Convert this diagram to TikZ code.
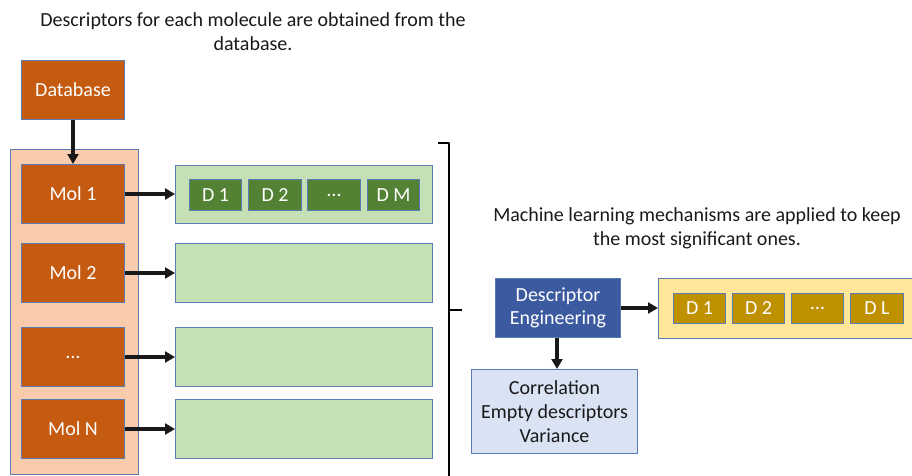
\documentclass[tikz,border=0pt]{standalone}
\usepackage{fontspec}
\setmainfont{Carlito}
\usetikzlibrary{arrows.meta}

\definecolor{rust}{HTML}{C55A11}
\definecolor{peach}{HTML}{F8CBAD}
\definecolor{mint}{HTML}{C5E0B4}
\definecolor{leaf}{HTML}{548235}
\definecolor{navy}{HTML}{3B5AA0}
\definecolor{cream}{HTML}{FFE699}
\definecolor{gold}{HTML}{BF9000}
\definecolor{ice}{HTML}{DAE3F3}
\definecolor{edge}{HTML}{5B7DB5}

\tikzset{
  box/.style={draw=edge, line width=1pt, inner sep=0pt, anchor=north west},
  molbox/.style={box, fill=rust, text=white, font=\fontsize{20}{24}\selectfont},
  descbox/.style={box, fill=leaf, text=white, font=\fontsize{20}{24}\selectfont},
  keptbox/.style={box, fill=gold, text=white, font=\fontsize{20}{24}\selectfont},
  rowbox/.style={box, fill=mint},
  flow/.style={line width=3.4pt, draw=black!90, -{Triangle[length=10pt,width=11pt]}},
  caption/.style={align=center, font=\fontsize{20}{24}\selectfont, text=black!90},
}

\begin{document}
\begin{tikzpicture}[x=1pt,y=-1pt]
\useasboundingbox (0,0) rectangle (912,476);

% captions
\node[caption] (capA) at (253,32) {Descriptors for each molecule are obtained from the\\database.};
\node[caption] (capB) at (697,228) {Machine learning mechanisms are applied to keep\\the most significant ones.};

% molecule panel
\node[box, fill=peach, minimum width=128pt, minimum height=325pt] (panel) at (10,149) {};
\node[molbox, minimum width=103pt, minimum height=59pt] (db) at (21,60) {Database};
\node[molbox, minimum width=103pt, minimum height=59pt] (m1) at (21,164) {Mol 1};
\node[molbox, minimum width=103pt, minimum height=59pt] (m2) at (21,243) {Mol 2};
\node[molbox, minimum width=103pt, minimum height=59pt] (m3) at (21,327) {\dots};
\node[molbox, minimum width=103pt, minimum height=59pt] (m4) at (21,399) {Mol N};

% descriptor rows
\node[rowbox, minimum width=257pt, minimum height=58pt] (r1) at (175,165) {};
\node[rowbox, minimum width=257pt, minimum height=59pt] (r2) at (175,243) {};
\node[rowbox, minimum width=257pt, minimum height=59pt] (r3) at (175,327) {};
\node[rowbox, minimum width=257pt, minimum height=59pt] (r4) at (175,399) {};

\node[descbox, minimum width=52pt, minimum height=31pt] (d1) at (189,179) {D 1};
\node[descbox, minimum width=53pt, minimum height=31pt] (d2) at (248,179) {D 2};
\node[descbox, minimum width=53pt, minimum height=31pt] (d3) at (307,179) {\dots};
\node[descbox, minimum width=52pt, minimum height=31pt] (d4) at (367,179) {D M};

% connectors on the left
\draw[flow] (db.south) -- (m1.north);
\draw[flow] (m1.east) -- (m1.east -| r1.west);
\draw[flow] (m2.east) -- (m2.east -| r2.west);
\draw[flow] (m3.east) -- (m3.east -| r3.west);
\draw[flow] (m4.east) -- (m4.east -| r4.west);

% brace grouping the rows
\coordinate (bt) at (438,143);
\coordinate (bm) at (462,310);
\coordinate (bb) at (449,478);
\draw[line width=2.8pt, line join=round] (bt) -- (449,143) -- (bb);
\draw[line width=2.8pt] (449,310) -- (bm);

% descriptor engineering
\node[box, fill=navy, text=white, align=center, minimum width=125pt, minimum height=59pt,
      font=\fontsize{20}{23}\selectfont] (de) at (495,278) {Descriptor\\Engineering};
\node[box, fill=cream, minimum width=260pt, minimum height=60pt] (kept) at (658,278) {};
\node[keptbox, minimum width=52pt, minimum height=30pt] (k1) at (673,293) {D 1};
\node[keptbox, minimum width=52pt, minimum height=30pt] (k2) at (732,293) {D 2};
\node[keptbox, minimum width=52pt, minimum height=30pt] (k3) at (791,293) {\dots};
\node[keptbox, minimum width=53pt, minimum height=30pt] (k4) at (850,293) {D L};

\node[box, fill=ice, text=black!90, align=center, minimum width=166pt, minimum height=84pt,
      font=\fontsize{20}{24}\selectfont] (crit) at (471,369) {Correlation\\Empty descriptors\\Variance};

\draw[flow] (de.east) -- (de.east -| kept.west);
\draw[flow] (de.south -| 557,0) -- (crit.north -| 557,0);
\end{tikzpicture}
\end{document}
